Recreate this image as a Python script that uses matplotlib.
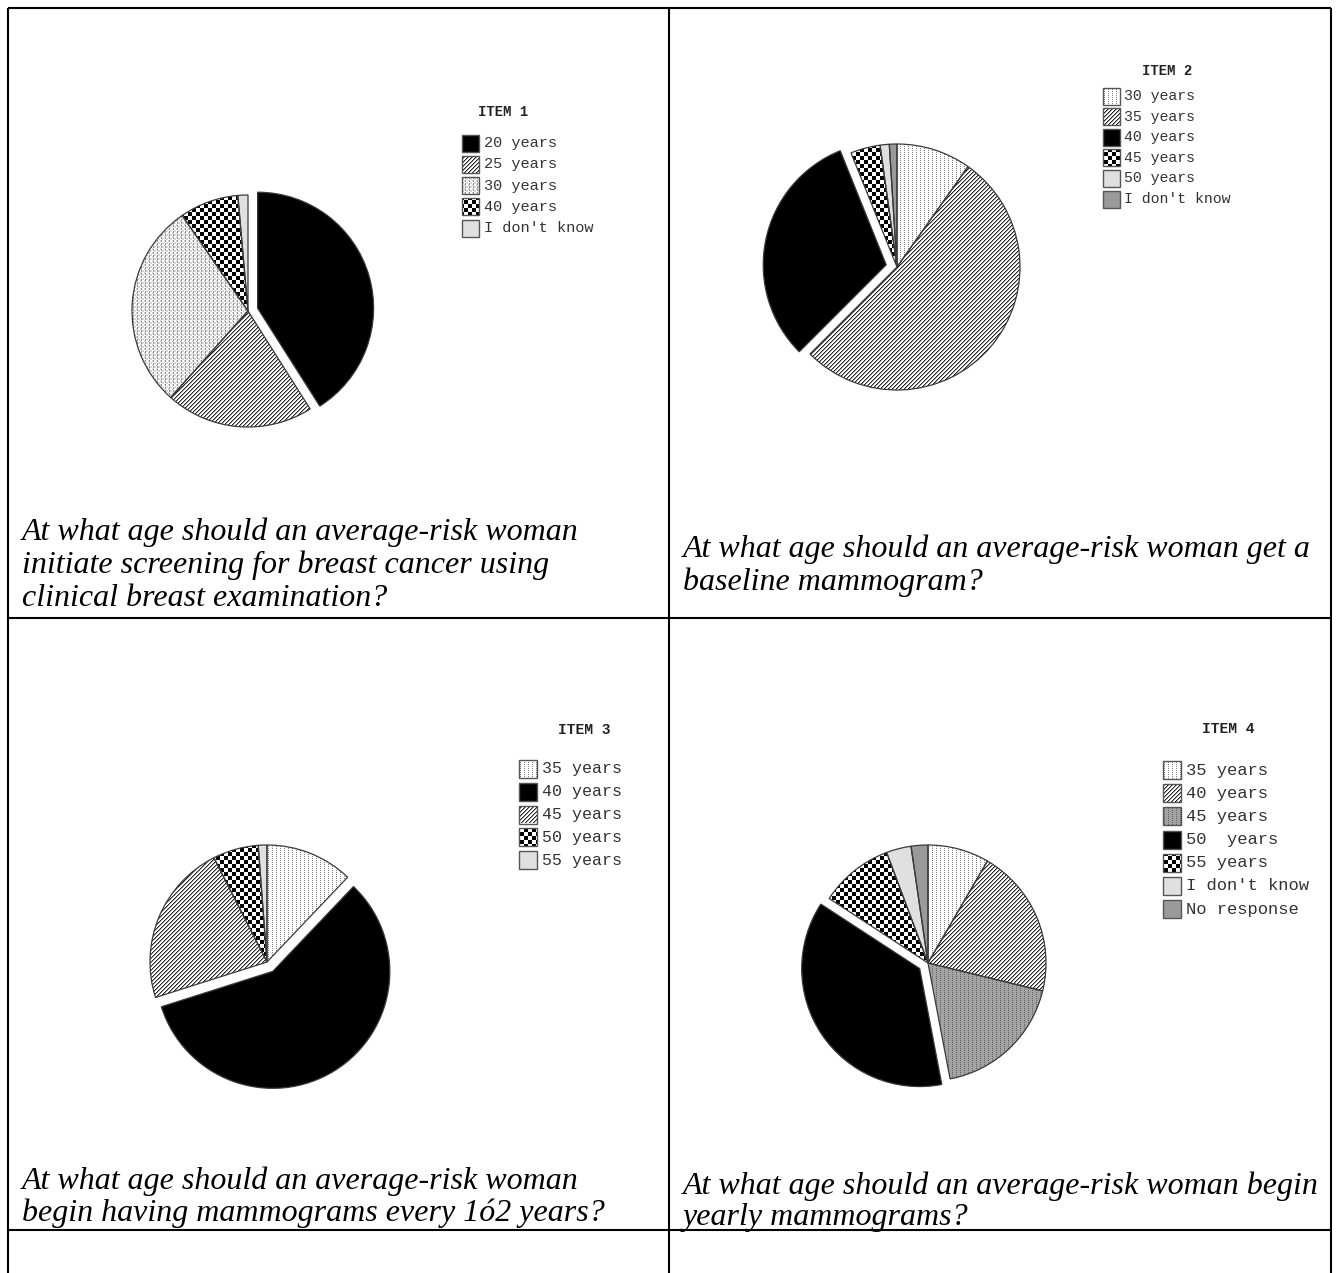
import numpy as np
import matplotlib
matplotlib.use("Agg")
import matplotlib.pyplot as plt
from matplotlib.patches import Rectangle

W, H = 1339, 1273

# ---------------- data ----------------
item1_labels = ["20 years", "25 years", "30 years", "40 years", "I don't know"]
item1_values = [41.0, 20.6, 28.8, 8.2, 1.4]
item1_fills = ["black", "hatch", "stipple", "checker", "light"]

item2_labels = ["30 years", "35 years", "40 years", "45 years", "50 years", "I don't know"]
item2_values = [9.8, 52.7, 31.4, 3.9, 1.2, 1.0]
item2_fills = ["dots", "hatch", "black", "checker", "light", "gray"]

item3_labels = ["35 years", "40 years", "45 years", "50 years", "55 years"]
item3_values = [12.1, 58.0, 22.4, 6.3, 1.2]
item3_fills = ["dots", "black", "hatch", "checker", "light"]

item4_labels = ["35 years", "40 years", "45 years", "50  years", "55 years",
                "I don't know", "No response"]
item4_values = [8.4, 20.4, 18.2, 37.2, 10.1, 3.4, 2.3]
item4_fills = ["dots", "hatch", "graydots", "black", "checker", "light", "gray"]

titles = ["ITEM 1", "ITEM 2", "ITEM 3", "ITEM 4"]
exploded_index = [0, 2, 1, 3]

captions = [
    ["At what age should an average-risk woman",
     "initiate screening for breast cancer using",
     "clinical breast examination?"],
    ["At what age should an average-risk woman get a",
     "baseline mammogram?"],
    ["At what age should an average-risk woman",
     "begin having mammograms every 1\u00f32 years?"],
    ["At what age should an average-risk woman begin",
     "yearly mammograms?"],
]

# ---------------- layout (pixels) ----------------
pie_geom = [  # cx, cy, r, explode(px)
    (248, 311, 116, 10),
    (897, 267, 123, 11),
    (267, 962, 117, 11),
    (928, 963, 118, 10),
]
legend_geom = [
    dict(tx=503, ty=112, sx=462, lx=484, y0=143, dy=21.3, s=17, fs=11.0, tfs=10.0),
    dict(tx=1167, ty=71, sx=1103, lx=1124, y0=96, dy=20.6, s=17, fs=10.7, tfs=10.0),
    dict(tx=584, ty=730, sx=519, lx=542, y0=769, dy=22.75, s=18, fs=12.0, tfs=10.5),
    dict(tx=1228, ty=729, sx=1163, lx=1186, y0=770, dy=23.2, s=18, fs=12.3, tfs=10.5),
]
caption_geom = [(22, [532, 565, 598]), (683, [549, 582]),
                (22, [1181, 1213]), (683, [1186, 1218])]

# ---------------- textures ----------------
rows, cols = np.mgrid[0:H, 0:W]


def make_texture(kind):
    t = np.ones((H, W))
    if kind == "hatch":
        m = (rows + cols) % 4
        t[m == 0] = 0.15
        t[m == 1] = 0.6
    elif kind == "checker":
        t = ((rows // 4 + cols // 4) % 2).astype(float)
    elif kind == "dots":
        t[(cols % 4 == 0) & (rows % 2 == 0)] = 0.5
    elif kind == "graydots":
        t[:] = 0.64
        t[(cols % 4 == 0) & (rows % 2 == 0)] = 0.38
    elif kind == "stipple":
        t[((rows // 2 + cols // 2) % 2) == 0] = 0.84
        t[(cols % 4 == 1) & (rows % 3 != 2)] = 0.58
    return t


textures = {k: make_texture(k) for k in ["hatch", "checker", "dots", "graydots", "stipple"]}
solid = {"black": "black", "light": "#e0e0e0", "gray": "#9a9a9a"}


def face_of(kind):
    return solid.get(kind, "white")


fig = plt.figure(figsize=(W / 100, H / 100), dpi=100)
fig.patch.set_facecolor("white")
ax = fig.add_axes([0, 0, 1, 1])


def add_texture(kind, clip_artist):
    if kind in textures:
        im = ax.imshow(textures[kind], cmap="gray", vmin=0, vmax=1,
                       extent=(0, W, H, 0), interpolation="nearest",
                       aspect="auto", zorder=1.5)
        im.set_clip_path(clip_artist)


items = [
    (item1_labels, item1_values, item1_fills),
    (item2_labels, item2_values, item2_fills),
    (item3_labels, item3_values, item3_fills),
    (item4_labels, item4_values, item4_fills),
]

for k, (labels, values, fills) in enumerate(items):
    cx, cy, r, ex = pie_geom[k]
    explode = [ex if i == exploded_index[k] else 0 for i in range(len(values))]
    wedges, _ = ax.pie(values, explode=explode, center=(cx, cy), radius=r,
                       startangle=-90, counterclock=True,
                       colors=[face_of(f) for f in fills],
                       wedgeprops=dict(linewidth=0, zorder=1), frame=True)
    for w, f in zip(wedges, fills):
        add_texture(f, w)
    ax.pie(values, explode=explode, center=(cx, cy), radius=r,
           startangle=-90, counterclock=True, colors=["none"] * len(values),
           wedgeprops=dict(facecolor="none", edgecolor="#3a3a3a",
                           linewidth=0.9, zorder=2), frame=True)

    # legend
    g = legend_geom[k]
    ax.text(g["tx"], g["ty"], titles[k], ha="center", va="center",
            fontfamily="Liberation Mono", fontweight="bold",
            fontsize=g["tfs"], color="#222222", zorder=3)
    for i, (lab, f) in enumerate(zip(labels, fills)):
        yy = g["y0"] + i * g["dy"]
        sw = Rectangle((g["sx"], yy - g["s"] / 2), g["s"], g["s"],
                       facecolor=face_of(f), edgecolor="none", zorder=1)
        ax.add_patch(sw)
        add_texture(f, sw)
        ax.add_patch(Rectangle((g["sx"], yy - g["s"] / 2), g["s"], g["s"],
                               facecolor="none", edgecolor="#555555",
                               linewidth=1.0, zorder=2))
        ax.text(g["lx"], yy, lab, ha="left", va="center",
                fontfamily="Liberation Mono", fontsize=g["fs"],
                color="#333333", zorder=3)

# captions
for k, (x, ys) in enumerate(caption_geom):
    for line, y in zip(captions[k], ys):
        ax.text(x, y, line, ha="left", va="center", fontfamily="Liberation Serif",
                style="italic", fontsize=23, color="black", zorder=3)

# table grid
lw = 1.5
for x in (8, 669, 1331):
    ax.plot([x, x], [8, H + 5], color="black", linewidth=lw, zorder=4,
            solid_capstyle="butt")
for y in (8, 618, 1230):
    ax.plot([8, 1331], [y, y], color="black", linewidth=lw, zorder=4,
            solid_capstyle="butt")

ax.set_xlim(0, W)
ax.set_ylim(H, 0)
ax.axis("off")
fig.savefig("out.png", dpi=100, facecolor="white")
